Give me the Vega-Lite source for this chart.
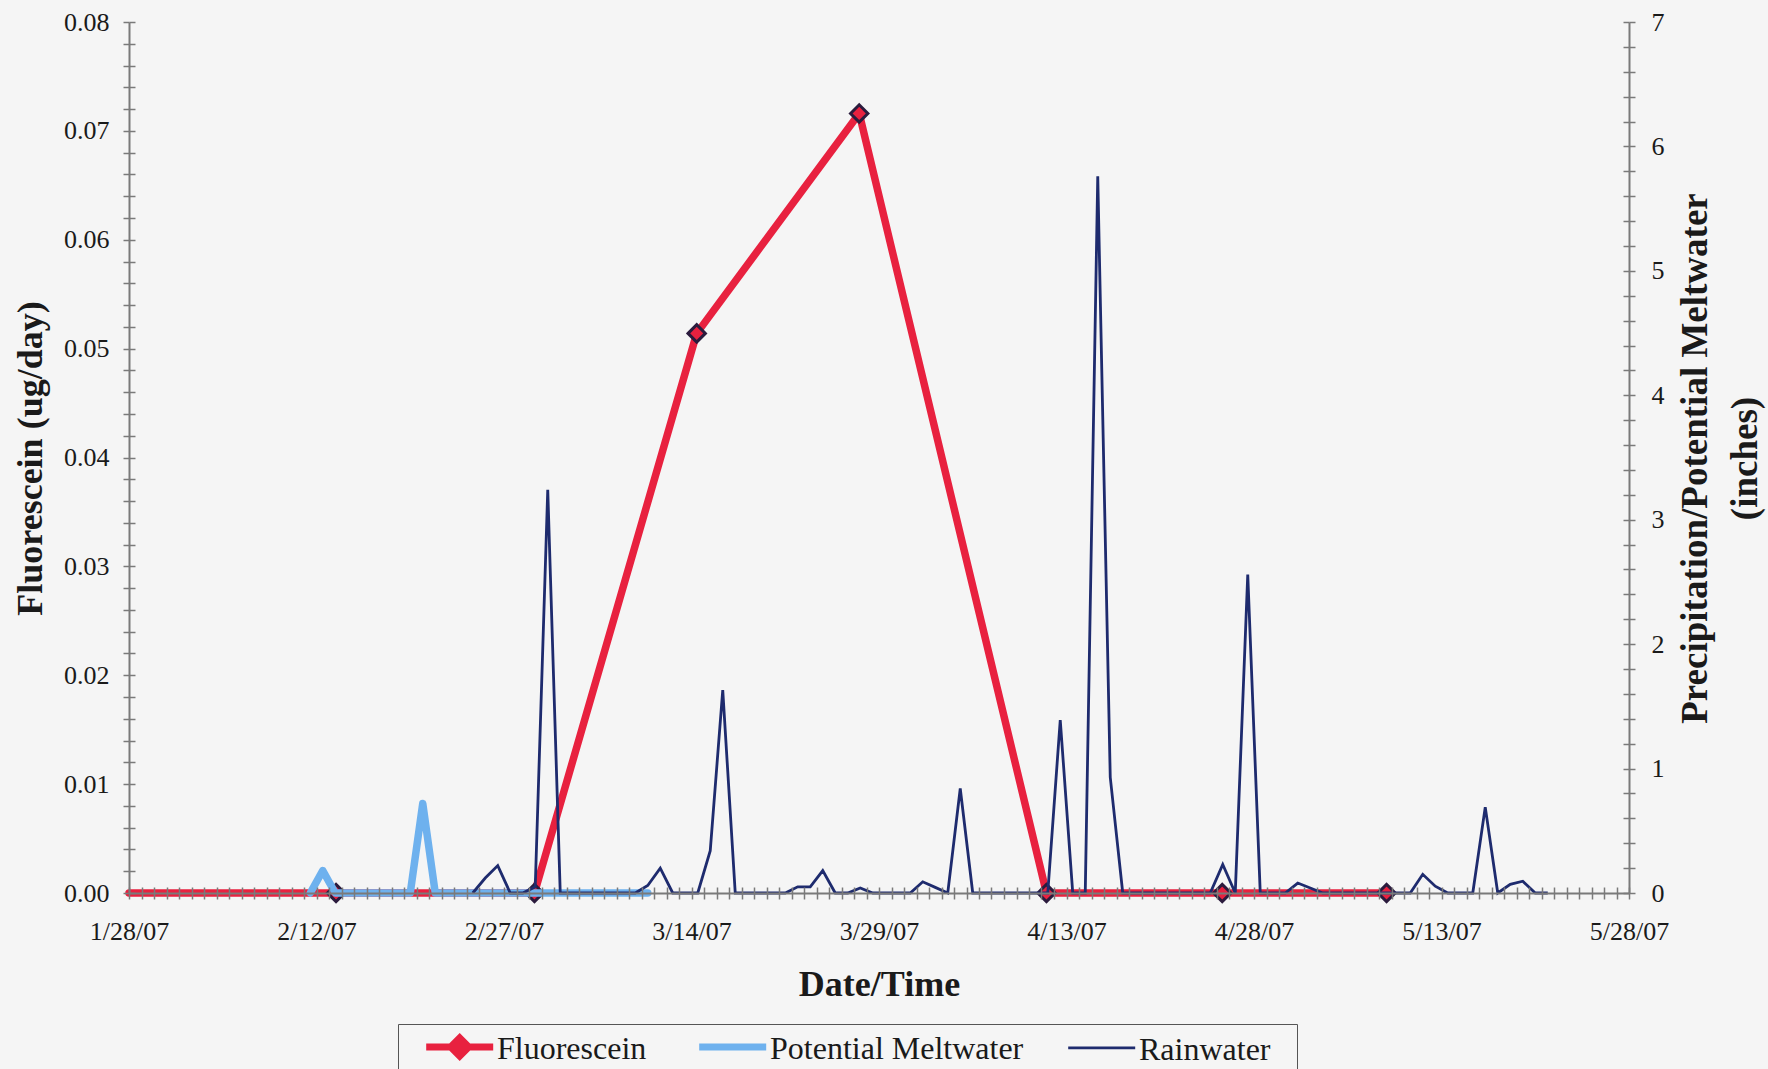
{
  "$schema": "https://vega.github.io/schema/vega-lite/v6.json",
  "width": 1500,
  "height": 871,
  "autosize": "none",
  "padding": {"left": 129, "top": 22, "right": 139, "bottom": 176},
  "background": "#f5f5f5",
  "config": {
    "view": {"stroke": null},
    "font": "Liberation Serif",
    "axis": {
      "labelFont": "Liberation Serif", "labelFontSize": 26, "labelColor": "#1a1a1a",
      "titleFont": "Liberation Serif", "titleFontSize": 36, "titleFontWeight": "bold", "titleColor": "#1a1a1a",
      "domainColor": "#7a7a7a", "domainWidth": 2, "tickColor": "#7a7a7a", "tickWidth": 1.5,
      "grid": false, "labelOverlap": false, "labelBound": false, "labelFlush": false
    }
  },
  "datasets": {
    "fluor": [
      {"date": "2007-01-28T00:00:00", "value": 0},
      {"date": "2007-02-13T13:30:00", "value": 0},
      {"date": "2007-03-01T10:30:00", "value": 0},
      {"date": "2007-03-14T10:00:00", "value": 0.0514},
      {"date": "2007-03-27T10:00:00", "value": 0.0716},
      {"date": "2007-04-11T09:30:00", "value": 0},
      {"date": "2007-04-25T11:00:00", "value": 0},
      {"date": "2007-05-08T14:30:00", "value": 0}
    ],
    "melt": [
      {"date": "2007-02-11T12:00:00", "value": 0},
      {"date": "2007-02-12T12:00:00", "value": 0.18},
      {"date": "2007-02-13T12:00:00", "value": 0},
      {"date": "2007-02-14T12:00:00", "value": 0},
      {"date": "2007-02-15T12:00:00", "value": 0},
      {"date": "2007-02-16T12:00:00", "value": 0},
      {"date": "2007-02-17T12:00:00", "value": 0},
      {"date": "2007-02-18T12:00:00", "value": 0},
      {"date": "2007-02-19T12:00:00", "value": 0},
      {"date": "2007-02-20T12:00:00", "value": 0.72},
      {"date": "2007-02-21T12:00:00", "value": 0},
      {"date": "2007-02-22T12:00:00", "value": 0},
      {"date": "2007-02-23T12:00:00", "value": 0},
      {"date": "2007-02-24T12:00:00", "value": 0},
      {"date": "2007-02-25T12:00:00", "value": 0},
      {"date": "2007-02-26T12:00:00", "value": 0},
      {"date": "2007-02-27T12:00:00", "value": 0},
      {"date": "2007-02-28T12:00:00", "value": 0},
      {"date": "2007-03-01T12:00:00", "value": 0},
      {"date": "2007-03-02T12:00:00", "value": 0},
      {"date": "2007-03-03T12:00:00", "value": 0},
      {"date": "2007-03-04T12:00:00", "value": 0},
      {"date": "2007-03-05T12:00:00", "value": 0},
      {"date": "2007-03-06T12:00:00", "value": 0},
      {"date": "2007-03-07T12:00:00", "value": 0},
      {"date": "2007-03-08T12:00:00", "value": 0},
      {"date": "2007-03-09T12:00:00", "value": 0},
      {"date": "2007-03-10T12:00:00", "value": 0}
    ],
    "rain": [
      {"date": "2007-02-24T12:00:00", "value": 0},
      {"date": "2007-02-25T12:00:00", "value": 0.12},
      {"date": "2007-02-26T12:00:00", "value": 0.22},
      {"date": "2007-02-27T12:00:00", "value": 0},
      {"date": "2007-02-28T12:00:00", "value": 0},
      {"date": "2007-03-01T12:00:00", "value": 0.05},
      {"date": "2007-03-02T12:00:00", "value": 3.24},
      {"date": "2007-03-03T12:00:00", "value": 0},
      {"date": "2007-03-04T12:00:00", "value": 0},
      {"date": "2007-03-05T12:00:00", "value": 0},
      {"date": "2007-03-06T12:00:00", "value": 0},
      {"date": "2007-03-07T12:00:00", "value": 0},
      {"date": "2007-03-08T12:00:00", "value": 0},
      {"date": "2007-03-09T12:00:00", "value": 0},
      {"date": "2007-03-10T12:00:00", "value": 0.06},
      {"date": "2007-03-11T12:00:00", "value": 0.2},
      {"date": "2007-03-12T12:00:00", "value": 0},
      {"date": "2007-03-13T12:00:00", "value": 0},
      {"date": "2007-03-14T12:00:00", "value": 0},
      {"date": "2007-03-15T12:00:00", "value": 0.34},
      {"date": "2007-03-16T12:00:00", "value": 1.63},
      {"date": "2007-03-17T12:00:00", "value": 0},
      {"date": "2007-03-18T12:00:00", "value": 0},
      {"date": "2007-03-19T12:00:00", "value": 0},
      {"date": "2007-03-20T12:00:00", "value": 0},
      {"date": "2007-03-21T12:00:00", "value": 0},
      {"date": "2007-03-22T12:00:00", "value": 0.05},
      {"date": "2007-03-23T12:00:00", "value": 0.05},
      {"date": "2007-03-24T12:00:00", "value": 0.18},
      {"date": "2007-03-25T12:00:00", "value": 0},
      {"date": "2007-03-26T12:00:00", "value": 0},
      {"date": "2007-03-27T12:00:00", "value": 0.04},
      {"date": "2007-03-28T12:00:00", "value": 0},
      {"date": "2007-03-29T12:00:00", "value": 0},
      {"date": "2007-03-30T12:00:00", "value": 0},
      {"date": "2007-03-31T12:00:00", "value": 0},
      {"date": "2007-04-01T12:00:00", "value": 0.09},
      {"date": "2007-04-02T12:00:00", "value": 0.045},
      {"date": "2007-04-03T12:00:00", "value": 0},
      {"date": "2007-04-04T12:00:00", "value": 0.84},
      {"date": "2007-04-05T12:00:00", "value": 0},
      {"date": "2007-04-06T12:00:00", "value": 0},
      {"date": "2007-04-07T12:00:00", "value": 0},
      {"date": "2007-04-08T12:00:00", "value": 0},
      {"date": "2007-04-09T12:00:00", "value": 0},
      {"date": "2007-04-10T12:00:00", "value": 0},
      {"date": "2007-04-11T12:00:00", "value": 0},
      {"date": "2007-04-12T12:00:00", "value": 1.39},
      {"date": "2007-04-13T12:00:00", "value": 0},
      {"date": "2007-04-14T12:00:00", "value": 0},
      {"date": "2007-04-15T12:00:00", "value": 5.76},
      {"date": "2007-04-16T12:00:00", "value": 0.93},
      {"date": "2007-04-17T12:00:00", "value": 0},
      {"date": "2007-04-18T12:00:00", "value": 0},
      {"date": "2007-04-19T12:00:00", "value": 0},
      {"date": "2007-04-20T12:00:00", "value": 0},
      {"date": "2007-04-21T12:00:00", "value": 0},
      {"date": "2007-04-22T12:00:00", "value": 0},
      {"date": "2007-04-23T12:00:00", "value": 0},
      {"date": "2007-04-24T12:00:00", "value": 0},
      {"date": "2007-04-25T12:00:00", "value": 0.23},
      {"date": "2007-04-26T12:00:00", "value": 0},
      {"date": "2007-04-27T12:00:00", "value": 2.56},
      {"date": "2007-04-28T12:00:00", "value": 0},
      {"date": "2007-04-29T12:00:00", "value": 0},
      {"date": "2007-04-30T12:00:00", "value": 0},
      {"date": "2007-05-01T12:00:00", "value": 0.08},
      {"date": "2007-05-02T12:00:00", "value": 0.04},
      {"date": "2007-05-03T12:00:00", "value": 0},
      {"date": "2007-05-04T12:00:00", "value": 0},
      {"date": "2007-05-05T12:00:00", "value": 0},
      {"date": "2007-05-06T12:00:00", "value": 0},
      {"date": "2007-05-07T12:00:00", "value": 0},
      {"date": "2007-05-08T12:00:00", "value": 0},
      {"date": "2007-05-09T12:00:00", "value": 0},
      {"date": "2007-05-10T12:00:00", "value": 0},
      {"date": "2007-05-11T12:00:00", "value": 0.15},
      {"date": "2007-05-12T12:00:00", "value": 0.055},
      {"date": "2007-05-13T12:00:00", "value": 0},
      {"date": "2007-05-14T12:00:00", "value": 0},
      {"date": "2007-05-15T12:00:00", "value": 0},
      {"date": "2007-05-16T12:00:00", "value": 0.69},
      {"date": "2007-05-17T12:00:00", "value": 0},
      {"date": "2007-05-18T12:00:00", "value": 0.07},
      {"date": "2007-05-19T12:00:00", "value": 0.095},
      {"date": "2007-05-20T12:00:00", "value": 0},
      {"date": "2007-05-21T12:00:00", "value": 0}
    ]
  },
  "layer": [
    {
      "data": {"name": "fluor"},
      "mark": {"type": "line", "strokeWidth": 7.5, "strokeCap": "round", "strokeJoin": "round"},
      "encoding": {
        "x": {
          "field": "date", "type": "temporal",
          "scale": {"domain": [{"year": 2007, "month": 1, "date": 28}, {"year": 2007, "month": 5, "date": 28}]},
          "axis": {
            "orient": "bottom", "zindex": 1,
            "tickCount": {"interval": "day", "step": 1},
            "tickSize": 6, "labelPadding": 19,
            "labelExpr": "round((datum.value - datetime(2007,0,28)) / 86400000) % 15 === 0 ? timeFormat(datum.value, '%-m/%-d/%y') : ''",
            "title": "Date/Time", "titleX": 750, "titleY": 91, "titleBaseline": "middle", "titleAlign": "center"
          }
        },
        "y": {
          "field": "value", "type": "quantitative",
          "scale": {"domain": [0, 0.08], "nice": false},
          "axis": {
            "orient": "left", "zindex": 1,
            "values": [0,0.002,0.004,0.006,0.008,0.01,0.012,0.014,0.016,0.018,0.02,0.022,0.024,0.026,0.028,0.03,0.032,0.034,0.036,0.038,0.04,0.042,0.044,0.046,0.048,0.05,0.052,0.054,0.056,0.058,0.06,0.062,0.064,0.066,0.068,0.07,0.072,0.074,0.076,0.078,0.08],
            "labelExpr": "abs(datum.value * 100 - round(datum.value * 100)) < 0.01 ? format(datum.value, '.2f') : ''",
            "tickSize": 6, "labelPadding": 14,
            "title": "Fluorescein (ug/day)", "titleAngle": 270, "titleX": -99, "titleY": 436,
            "titleBaseline": "middle", "titleAlign": "center"
          }
        },
        "color": {
          "datum": "Fluorescein", "type": "nominal",
          "scale": {"domain": ["Fluorescein", "Potential Meltwater", "Rainwater"], "range": ["#e8213f", "#6eb1ee", "#1e2b6e"]},
          "legend": {
            "title": null, "orient": "none", "direction": "horizontal",
            "legendX": 269, "legendY": 1002,
            "padding": 26, "strokeColor": "#555555", "fillColor": "#f5f5f5",
            "labelFont": "Liberation Serif", "labelFontSize": 32, "labelColor": "#1a1a1a", "labelLimit": 500,
            "symbolSize": 400, "labelOffset": 41, "columnPadding": 38,
            "encode": {
              "symbols": {"update": {
                "shape": {"signal": "datum.value === 'Fluorescein' ? 'M-1.38,-1.9L5.32,-1.9M1.07,-1.9L1.97,-2.8L2.87,-1.9L1.97,-1.0Z' : datum.value === 'Rainwater' ? 'M-1.38,-2.24L5.32,-2.24M1.97,-2.8L1.97,-2.8M1.97,-1.0L1.97,-1.0' : 'M-1.38,-1.9L5.32,-1.9M1.97,-2.8L1.97,-2.8M1.97,-1.0L1.97,-1.0'"},
                "strokeWidth": {"signal": "datum.value === 'Rainwater' ? 2.8 : 7"},
                "fill": {"signal": "datum.value === 'Fluorescein' ? '#e8213f' : 'transparent'"}
              }},
              "labels": {"update": {"dy": {"signal": "datum.value === 'Rainwater' ? -20.4 : -17"}}}
            }
          }
        }
      }
    },
    {
      "data": {"name": "fluor"},
      "transform": [{"filter": "toDate(datum.date) > datetime(2007,0,29)"}],
      "mark": {"type": "point", "shape": "diamond", "size": 300, "filled": true, "fill": "#e8213f", "stroke": "#2b1b3d", "strokeWidth": 3, "opacity": 1},
      "encoding": {
        "x": {
          "field": "date", "type": "temporal",
          "axis": {"orient": "bottom", "zindex": 1, "tickCount": {"interval": "day", "step": 1}, "tickSize": -6, "labels": false, "domain": false, "title": null}
        },
        "y": {
          "field": "value", "type": "quantitative",
          "scale": {"domain": [0, 0.08], "nice": false},
          "axis": {
            "orient": "left", "zindex": 1,
            "values": [0,0.002,0.004,0.006,0.008,0.01,0.012,0.014,0.016,0.018,0.02,0.022,0.024,0.026,0.028,0.03,0.032,0.034,0.036,0.038,0.04,0.042,0.044,0.046,0.048,0.05,0.052,0.054,0.056,0.058,0.06,0.062,0.064,0.066,0.068,0.07,0.072,0.074,0.076,0.078,0.08],
            "tickSize": -6, "labels": false, "domain": false, "title": null
          }
        }
      }
    },
    {
      "data": {"name": "melt"},
      "mark": {"type": "line", "strokeWidth": 7.5, "strokeCap": "round", "strokeJoin": "round"},
      "encoding": {
        "x": {"field": "date", "type": "temporal", "axis": null},
        "y": {
          "field": "value", "type": "quantitative",
          "scale": {"domain": [0, 7], "nice": false},
          "axis": {
            "orient": "right", "zindex": 1,
            "values": [0,0.2,0.4,0.6,0.8,1,1.2,1.4,1.6,1.8,2,2.2,2.4,2.6,2.8,3,3.2,3.4,3.6,3.8,4,4.2,4.4,4.6,4.8,5,5.2,5.4,5.6,5.8,6,6.2,6.4,6.6,6.8,7],
            "labelExpr": "abs(datum.value - round(datum.value)) < 0.01 ? format(round(datum.value), 'd') : ''",
            "tickSize": 6, "labelPadding": 16,
            "title": ["Precipitation/Potential Meltwater", "(inches)"], "titleLineHeight": 50, "titleFontSize": 37,
            "titleAngle": 270, "titleX": 66, "titleY": 436, "titleBaseline": "middle", "titleAlign": "center"
          }
        },
        "color": {"datum": "Potential Meltwater", "type": "nominal"}
      }
    },
    {
      "data": {"name": "rain"},
      "mark": {"type": "line", "strokeWidth": 2.8, "strokeJoin": "miter"},
      "encoding": {
        "x": {"field": "date", "type": "temporal", "axis": null},
        "y": {
          "field": "value", "type": "quantitative",
          "scale": {"domain": [0, 7], "nice": false},
          "axis": {
            "orient": "right", "zindex": 1,
            "values": [0,0.2,0.4,0.6,0.8,1,1.2,1.4,1.6,1.8,2,2.2,2.4,2.6,2.8,3,3.2,3.4,3.6,3.8,4,4.2,4.4,4.6,4.8,5,5.2,5.4,5.6,5.8,6,6.2,6.4,6.6,6.8,7],
            "tickSize": -6, "labels": false, "domain": false, "title": null
          }
        },
        "color": {"datum": "Rainwater", "type": "nominal"}
      }
    }
  ],
  "resolve": {"scale": {"y": "independent"}, "axis": {"x": "independent"}}
}
